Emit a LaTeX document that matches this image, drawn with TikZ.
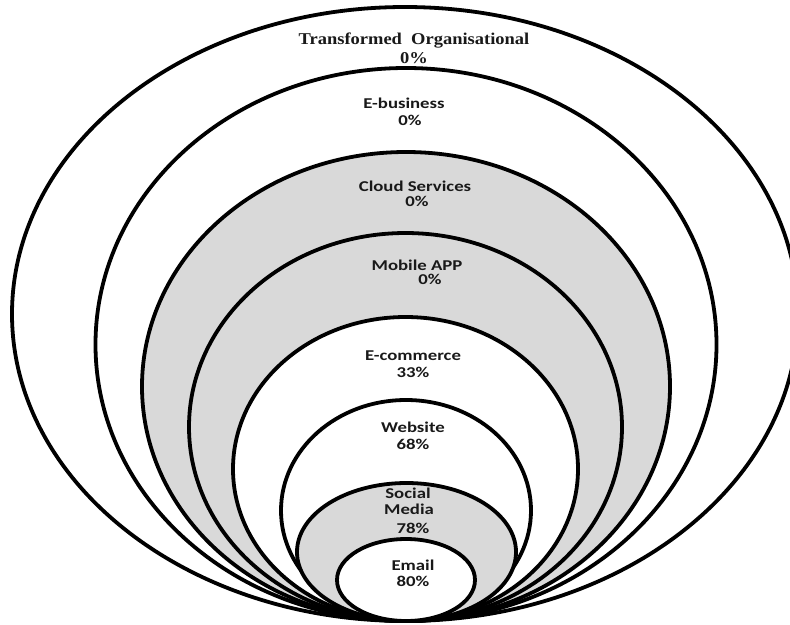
\documentclass[tikz,border=0pt]{standalone}
\usepackage{fontspec}
\newfontfamily\calfont{Carlito}
\newfontfamily\timesfont{Liberation Serif}
\definecolor{ringgray}{HTML}{D9D9D9}
\begin{document}
\begin{tikzpicture}[x=1pt,y=-1pt,
  ring/.style={draw=black,line width=3.8pt},
  lbl/.style={inner sep=0pt,font=\calfont\bfseries\fontsize{15}{15}\selectfont,text=black!90},
  tlbl/.style={inner sep=0pt,font=\timesfont\bfseries\fontsize{16.5}{16.5}\selectfont,text=black!90}]
\useasboundingbox[fill=white] (0,0) rectangle (790,624);
\clip (0,0) rectangle (790,624);
% ellipses: centre x 405, common bottom at y=621
\draw[ring,fill=white]     (405,314)   ellipse [x radius=393,   y radius=307];
\draw[ring,fill=white]     (406,344.5) ellipse [x radius=310.5, y radius=276.5];
\draw[ring,fill=ringgray]  (406,386.5) ellipse [x radius=264,   y radius=234.5];
\draw[ring,fill=ringgray]  (405.5,427) ellipse [x radius=216.5, y radius=194];
\draw[ring,fill=white]     (405.5,469) ellipse [x radius=172.5, y radius=152];
\draw[ring,fill=white]     (406,510.5) ellipse [x radius=125,   y radius=110.5];
\draw[ring,fill=ringgray]  (406.5,552) ellipse [x radius=109.5, y radius=69];
\draw[ring,fill=white]     (406,580)   ellipse [x radius=69,    y radius=41];
% labels
\node[tlbl] (t1) at (414,41)  {\scalebox{1.12}[1]{Transformed\ \ Organisational}};
\node[tlbl] (t2) at (414,58)  {\scalebox{1.12}[1]{0\%}};
\node[lbl] (eb1) at (404,103) {\scalebox{1.25}[1]{E-business}};
\node[lbl] (eb2) at (410,120) {\scalebox{1.25}[1]{0\%}};
\node[lbl] (cs1) at (415,186) {\scalebox{1.25}[1]{Cloud Services}};
\node[lbl] (cs2) at (417,201) {\scalebox{1.25}[1]{0\%}};
\node[lbl] (ma1) at (417,265) {\scalebox{1.25}[1]{Mobile APP}};
\node[lbl] (ma2) at (430,279) {\scalebox{1.25}[1]{0\%}};
\node[lbl] (ec1) at (413,356) {\scalebox{1.25}[1]{E-commerce}};
\node[lbl] (ec2) at (413,372) {\scalebox{1.25}[1]{33\%}};
\node[lbl] (ws1) at (413,427) {\scalebox{1.25}[1]{Website}};
\node[lbl] (ws2) at (413,444) {\scalebox{1.25}[1]{68\%}};
\node[lbl] (sm1) at (408,493) {\scalebox{1.25}[1]{Social}};
\node[lbl] (sm2) at (409,509) {\scalebox{1.25}[1]{Media}};
\node[lbl] (sm3) at (413,528) {\scalebox{1.25}[1]{78\%}};
\node[lbl] (em1) at (413,565) {\scalebox{1.25}[1]{Email}};
\node[lbl] (em2) at (413,581) {\scalebox{1.25}[1]{80\%}};
\end{tikzpicture}
\end{document}
